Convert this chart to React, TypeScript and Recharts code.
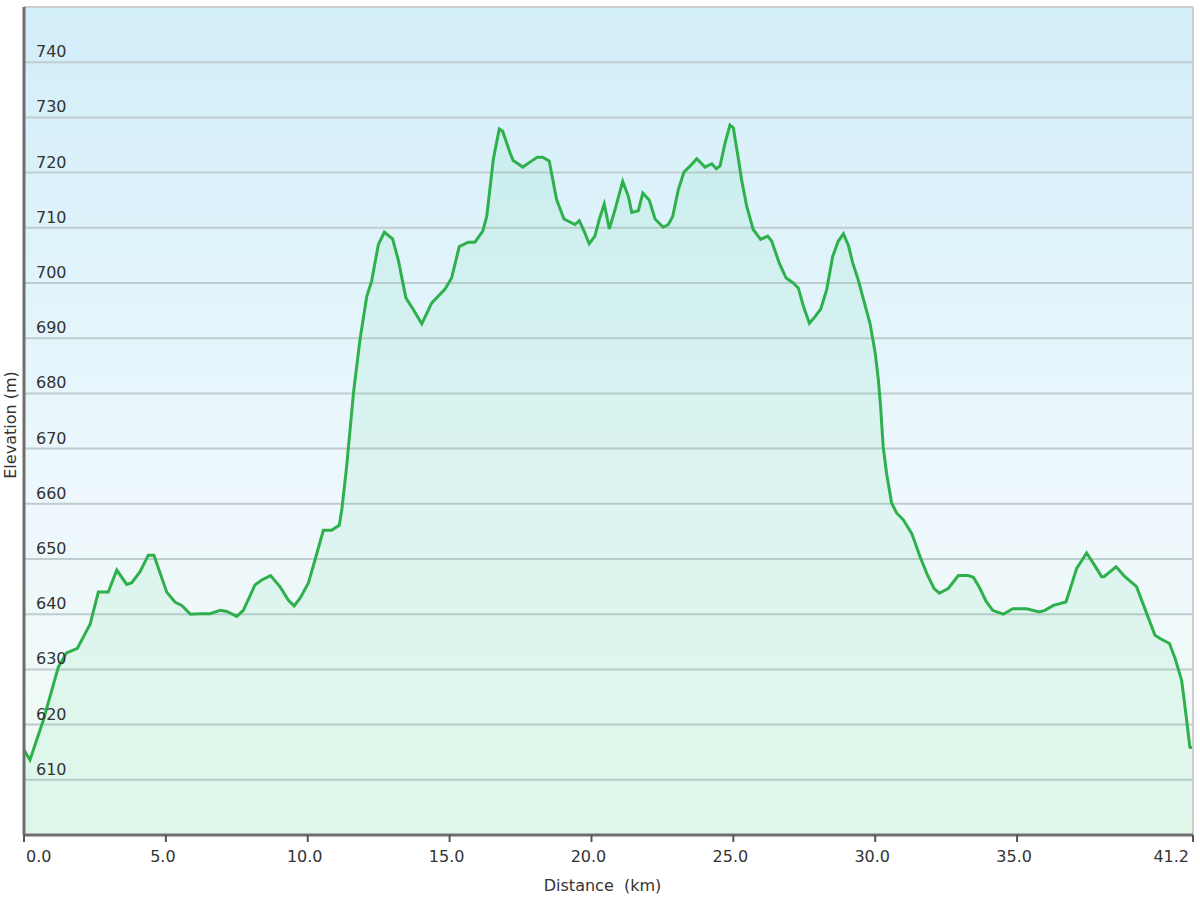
import {
  AreaChart,
  Area,
  CartesianGrid,
  XAxis,
  YAxis,
  ReferenceLine,
  Label,
} from "recharts"

const distanceKm = [
  0, 0.21, 0.68, 1.21, 1.5, 1.88, 2.33, 2.62, 2.97, 3.27, 3.62, 3.8, 4.09, 4.38,
  4.58, 5.03, 5.32, 5.56, 5.87, 6.2, 6.56, 6.91, 7.15, 7.5, 7.73, 8.14, 8.38,
  8.69, 9.02, 9.32, 9.52, 9.73, 10.02, 10.32, 10.55, 10.84, 11.11, 11.2, 11.37,
  11.61, 11.84, 12.08, 12.25, 12.49, 12.7, 12.99, 13.19, 13.46, 13.72, 14.02,
  14.37, 14.84, 15.07, 15.34, 15.66, 15.89, 16.17, 16.31, 16.54, 16.75, 16.87,
  17.13, 17.24, 17.58, 17.83, 18.09, 18.28, 18.51, 18.77, 19.03, 19.42, 19.57,
  19.74, 19.92, 20.12, 20.28, 20.45, 20.63, 20.83, 21.1, 21.3, 21.42, 21.65,
  21.81, 22.04, 22.24, 22.53, 22.71, 22.86, 23.06, 23.26, 23.5, 23.71, 24.0,
  24.24, 24.4, 24.53, 24.71, 24.88, 25.0, 25.18, 25.29, 25.47, 25.7, 25.96,
  26.21, 26.35, 26.62, 26.86, 27.09, 27.29, 27.47, 27.68, 27.88, 28.08, 28.29,
  28.5, 28.7, 28.88, 29.05, 29.21, 29.4, 29.64, 29.82, 30.0, 30.11, 30.19, 30.28,
  30.4, 30.58, 30.76, 30.99, 31.29, 31.58, 31.84, 32.07, 32.26, 32.58, 32.93,
  33.28, 33.46, 33.69, 33.9, 34.14, 34.51, 34.85, 35.34, 35.78, 35.98, 36.28,
  36.72, 36.86, 37.1, 37.45, 37.69, 37.98, 38.06, 38.49, 38.8, 39.21, 39.57,
  39.86, 40.04, 40.37, 40.57, 40.8, 40.92, 41.09, 41.2,
]

const elevationM = [
  615.4, 613.6, 620.8, 630.4, 633.0, 633.8, 638.2, 644.0, 644.0, 648.0, 645.4,
  645.7, 647.7, 650.7, 650.7, 644.0, 642.2, 641.6, 640.0, 640.1, 640.1, 640.7,
  640.5, 639.6, 640.7, 645.3, 646.2, 647.0, 645.0, 642.5, 641.5, 642.9, 645.6,
  651.0, 655.2, 655.2, 656.1, 658.9, 666.7, 680.0, 689.7, 697.6, 700.3, 707.0,
  709.2, 708.0, 704.2, 697.3, 695.2, 692.6, 696.4, 698.9, 700.9, 706.6, 707.4,
  707.4, 709.4, 712.1, 722.4, 727.9, 727.5, 723.6, 722.2, 721.0, 721.9, 722.8,
  722.8, 722.1, 715.1, 711.6, 710.6, 711.3, 709.4, 707.1, 708.5, 711.6, 714.3,
  709.8, 713.3, 718.4, 715.7, 712.8, 713.1, 716.3, 715.0, 711.6, 710.1, 710.6,
  712.0, 716.9, 720.1, 721.3, 722.5, 721.0, 721.6, 720.7, 721.2, 725.4, 728.6,
  728.1, 722.4, 718.7, 713.9, 709.7, 707.9, 708.5, 707.6, 703.6, 700.9, 700.1,
  699.1, 695.8, 692.7, 693.9, 695.3, 698.8, 704.8, 707.6, 708.9, 706.9, 703.6,
  700.6, 696.0, 692.6, 687.3, 682.5, 677.6, 670.4, 665.5, 660.1, 658.3, 657.1,
  654.6, 650.4, 647.1, 644.7, 643.8, 644.7, 647.0, 647.0, 646.7, 644.7, 642.4,
  640.7, 640.0, 641.0, 641.0, 640.4, 640.7, 641.6, 642.2, 644.4, 648.3, 651.1,
  649.2, 646.8, 646.8, 648.6, 646.8, 645.0, 640.1, 636.2, 635.6, 634.7, 632.0,
  628.0, 623.2, 615.9, 615.8,
]

const distanceTicks = [0, 5, 10, 15, 20, 25, 30, 35, 41.2]
const elevationTicks = [
  610, 620, 630, 640, 650, 660, 670, 680, 690, 700, 710, 720, 730, 740,
]

const data = distanceKm.map((km, i) => ({ km, elevation: elevationM[i] }))

const font = "'DejaVu Sans', Verdana, sans-serif"

function XTick(props: any) {
  const { x, y, payload } = props
  const v = payload.value
  let anchor = "middle"
  let dx = -3
  if (v === 0) {
    anchor = "start"
    dx = 2
  } else if (v === 41.2) {
    anchor = "end"
    dx = -4
  }
  return (
    <text
      x={x + dx}
      y={y + 18}
      textAnchor={anchor}
      fontFamily={font}
      fontSize={16}
      fill="#333"
    >
      {v.toFixed(1)}
    </text>
  )
}

function YTick(props: any) {
  const { x, y, payload } = props
  return (
    <text
      x={x + 12}
      y={y - 5}
      textAnchor="start"
      fontFamily={font}
      fontSize={16}
      fill="#333"
    >
      {payload.value}
    </text>
  )
}

export default function App() {
  return (
    <div style={{ position: "absolute", left: 0, top: 0, width: 1200, height: 900, background: "#fff" }}>
      <AreaChart
        width={1200}
        height={900}
        data={data}
        margin={{ top: 7, right: 7, left: 0, bottom: 35 }}
      >
        <defs>
          <linearGradient id="bg" x1="0" y1="0" x2="0" y2="1">
            <stop offset="0%" stopColor="#d2eef9" />
            <stop offset="60%" stopColor="#eef8fd" />
            <stop offset="100%" stopColor="#f0fbf4" />
          </linearGradient>
        </defs>

        <CartesianGrid
          vertical={false}
          fill="url(#bg)"
          fillOpacity={1}
          stroke="#bfccd0"
          strokeWidth={2}
        />

        <XAxis
          dataKey="km"
          type="number"
          domain={[0, 41.2]}
          ticks={distanceTicks}
          interval={0}
          height={30}
          tickSize={7}
          tickLine={{ stroke: "#555", strokeWidth: 2 }}
          axisLine={{ stroke: "#6e6e6e", strokeWidth: 3 }}
          tick={<XTick />}
        >
          <Label
            value={"Distance\u00a0\u00a0(km)"}
            position="bottom"
            offset={15}
            dx={-6}
            style={{ fontFamily: font, fontSize: 16, fill: "#333" }}
          />
        </XAxis>

        <YAxis
          type="number"
          domain={[600, 750]}
          ticks={elevationTicks}
          interval={0}
          width={24}
          tickSize={0}
          tickMargin={0}
          axisLine={{ stroke: "#6e6e6e", strokeWidth: 3 }}
          tick={<YTick />}
        >
          <Label
            value="Elevation (m)"
            angle={-90}
            position="center"
            dx={-2}
            dy={4}
            style={{ fontFamily: font, fontSize: 16, fill: "#333", textAnchor: "middle" }}
          />
        </YAxis>

        <ReferenceLine y={750} stroke="#cdcdcd" strokeWidth={2} />
        <ReferenceLine x={41.2} stroke="#cdcdcd" strokeWidth={2} />

        <Area
          type="linear"
          dataKey="elevation"
          stroke="#2eb14c"
          strokeWidth={3}
          fill="#4fd98a"
          fillOpacity={0.1}
          isAnimationActive={false}
          dot={false}
          activeDot={false}
        />
      </AreaChart>
    </div>
  )
}
